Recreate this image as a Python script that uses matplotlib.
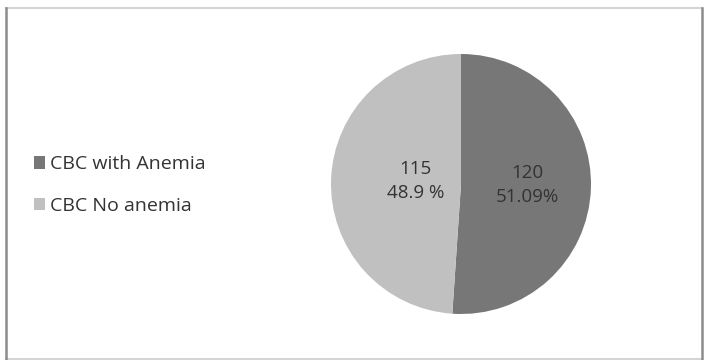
import numpy as np
import matplotlib.pyplot as plt

plt.rcParams['font.family'] = ['Open Sans', 'DejaVu Sans']

labels = ['CBC with Anemia', 'CBC No anemia']
counts = [120, 115]
pct_text = ['51.09%', '48.9 %']
colors = ['#777777', '#c0c0c0']

fig = plt.figure(figsize=(7.12, 3.6), dpi=100)

# outer frame: darker sides, lighter top/bottom
fig.add_artist(plt.Line2D([6 / 712, 702 / 712], [352 / 360, 352 / 360],
                          transform=fig.transFigure, color='#d4d4d4', lw=1.5))
fig.add_artist(plt.Line2D([6 / 712, 702 / 712], [1 / 360, 1 / 360],
                          transform=fig.transFigure, color='#d4d4d4', lw=1.5))
fig.add_artist(plt.Line2D([6 / 712, 6 / 712], [1 / 360, 352 / 360],
                          transform=fig.transFigure, color='#8c8c8c', lw=1.8))
fig.add_artist(plt.Line2D([702 / 712, 702 / 712], [1 / 360, 352 / 360],
                          transform=fig.transFigure, color='#8c8c8c', lw=1.8))

# pie centre ~ (461, 184) px, radius ~130 px
ax = fig.add_axes([(461 - 130) / 712, 46 / 360, 260 / 712, 260 / 360])
wedges, _ = ax.pie(counts, colors=colors, startangle=90, counterclock=False,
                   radius=1)
ax.set_xlim(-1, 1)
ax.set_ylim(-1, 1)
ax.set_aspect('equal')

# slice labels
label_r = [0.51, 0.35]
for w, n, p, r in zip(wedges, counts, pct_text, label_r):
    ang = np.deg2rad((w.theta1 + w.theta2) / 2)
    x, y = r * np.cos(ang), r * np.sin(ang) + 0.01
    ax.text(x, y, f'{n}\n{p}', ha='center', va='center', fontsize=13.5,
            color='#333333', linespacing=1.45)

leg = fig.legend(wedges, labels, loc='center left',
                 bbox_to_anchor=(16 / 712, 1 - 185 / 360), frameon=False,
                 fontsize=14, handlelength=0.6, handleheight=0.6,
                 handletextpad=0.25, labelspacing=1.2)
for t in leg.get_texts():
    t.set_color('#333333')

fig.savefig('out.png', dpi=100)
